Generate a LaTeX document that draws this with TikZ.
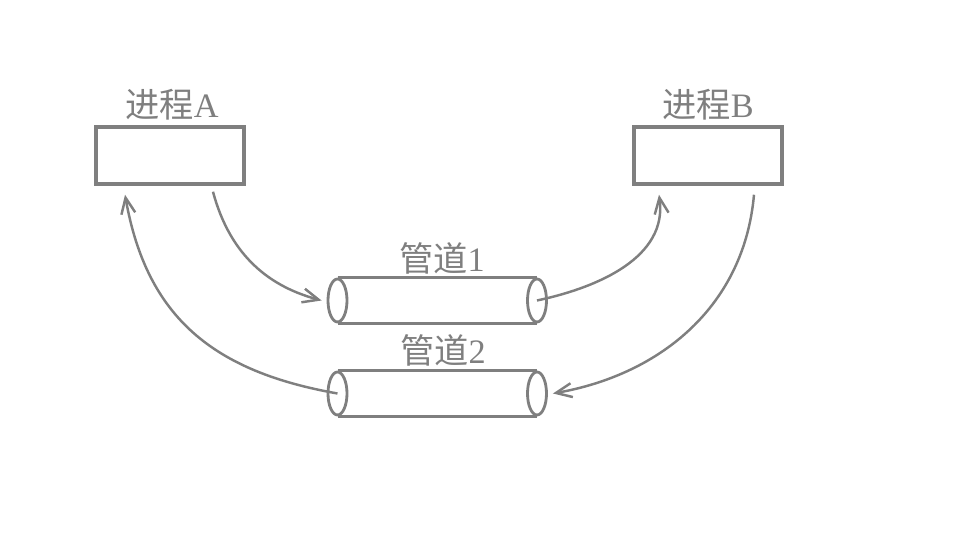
\documentclass[tikz,border=0pt]{standalone}
\usepackage{fontspec}
\setmainfont{Liberation Serif}
\newfontfamily\cjk{Noto Sans CJK SC}
\usetikzlibrary{arrows.meta, shapes.geometric}
\definecolor{PipeGray}{HTML}{7F7F7F}

\begin{document}
\begin{tikzpicture}[
  x=0.02cm, y=0.02cm,
  font=\fontsize{19.5}{21}\selectfont, color=PipeGray,
  procbox/.style={draw=PipeGray, line width=2pt, minimum width=2.96cm,
              minimum height=1.14cm, inner sep=0pt},
  pipeend/.style={ellipse, draw=PipeGray, line width=1.6pt, minimum width=0.38cm,
              minimum height=0.86cm, inner sep=0pt},
  pipeline/.style={line width=1.6pt, PipeGray},
  lab/.style={text=PipeGray, inner sep=1pt},
  flow/.style={line width=1.4pt, PipeGray, -{Straight Barb[length=3.2mm, width=2.8mm]}}]
\useasboundingbox (0,0) rectangle (965,546);
% processes
\node[procbox] (procA) at (170,390.5) {};
\node[procbox] (procB) at (708,390.5) {};
\node[lab] (labA) at (172,441) {{\cjk 进程}A};
\node[lab] (labB) at (708,441) {{\cjk 进程}B};
% pipes
\node[pipeend] (p1L) at (337.5,245.5) {};
\node[pipeend] (p1R) at (537,245.5) {};
\node[pipeend] (p2L) at (337.5,152.5) {};
\node[pipeend] (p2R) at (537,152.5) {};
\draw[pipeline] (p1L.north) -- (p1R.north);
\draw[pipeline] (p1L.south) -- (p1R.south);
\draw[pipeline] (p2L.north) -- (p2R.north);
\draw[pipeline] (p2L.south) -- (p2R.south);
\node[lab] (labP1) at (442,288) {{\cjk 管道}1};
\node[lab] (labP2) at (443,196) {{\cjk 管道}2};
% data flow
\draw[flow] ([xshift=0.86cm, yshift=-0.12cm]procA.south) to[out=-75, in=165]
  ([xshift=-0.1cm]p1L.west);
\draw[flow] (p1R.center) to[out=12, in=-82]
  ([xshift=-0.98cm, yshift=-0.18cm]procB.south);
\draw[flow] ([xshift=0.92cm, yshift=-0.18cm]procB.south) to[out=-95, in=10]
  ([xshift=0.1cm]p2R.east);
\draw[flow] (p2L.center) to[out=170, in=-80, looseness=1.1]
  ([xshift=-0.9cm, yshift=-0.18cm]procA.south);
\end{tikzpicture}
\end{document}
